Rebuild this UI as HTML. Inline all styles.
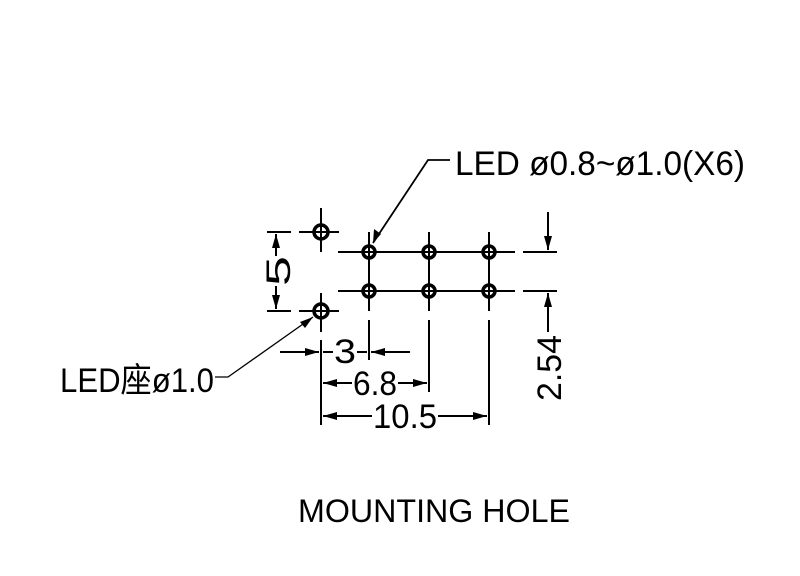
<!DOCTYPE html>
<html><head><meta charset="utf-8"><style>html,body{margin:0;padding:0;background:#fff}svg{display:block}</style></head><body>
<svg width="800" height="576" viewBox="0 0 800 576" xmlns="http://www.w3.org/2000/svg" font-family="Liberation Sans, 'Noto Sans CJK TC', sans-serif">
<rect width="800" height="576" fill="#fff"/>
<g stroke="#000" stroke-width="2" fill="none">
<line x1="338" y1="252" x2="515" y2="252"/><line x1="338" y1="291" x2="515" y2="291"/>
<line x1="523" y1="252" x2="557" y2="252"/><line x1="523" y1="291" x2="557" y2="291"/>
<line x1="369" y1="232" x2="369" y2="311"/><line x1="429" y1="232" x2="429" y2="311"/><line x1="489" y1="232" x2="489" y2="311"/>
<line x1="369" y1="320" x2="369" y2="360"/><line x1="429" y1="320" x2="429" y2="392"/><line x1="489" y1="320" x2="489" y2="425"/>
<line x1="321" y1="340" x2="321" y2="425"/>
<line x1="299" y1="232" x2="339" y2="232"/><line x1="321" y1="208" x2="321" y2="252"/>
<line x1="299" y1="311" x2="339" y2="311"/><line x1="321" y1="293" x2="321" y2="332"/>
<line x1="267" y1="232" x2="291" y2="232"/><line x1="267" y1="311" x2="291" y2="311"/>
<line x1="276" y1="234" x2="276" y2="256"/><line x1="276" y1="286" x2="276" y2="309"/>
<line x1="548" y1="212" x2="548" y2="250"/><line x1="548" y1="293" x2="548" y2="332"/>
<line x1="280" y1="352" x2="319" y2="352"/><line x1="323" y1="352" x2="333" y2="352"/>
<line x1="357" y1="352" x2="367" y2="352"/><line x1="371" y1="352" x2="410" y2="352"/>
<line x1="323" y1="383" x2="352" y2="383"/><line x1="398" y1="383" x2="427" y2="383"/>
<line x1="323" y1="416" x2="372" y2="416"/><line x1="438" y1="416" x2="487" y2="416"/>
<polyline points="450,160 428,160 373,243" stroke-width="1.8"/>
<polyline points="215,377 228,377 313,317" stroke-width="1.3"/>
</g>
<g fill="#000">
<polygon points="276,234 272,248 280,248"/><polygon points="276,309 272,295 280,295"/>
<polygon points="548,250 544,236 552,236"/><polygon points="548,293 544,307 552,307"/>
<polygon points="319,352 305,348 305,356"/><polygon points="371,352 385,348 385,356"/>
<polygon points="323,383 337,379 337,387"/><polygon points="427,383 413,379 413,387"/>
<polygon points="323,416 337,412 337,420"/><polygon points="487,416 473,412 473,420"/>
<polygon points="373,243 374,229 381,234"/><polygon points="313,317 300,322 305,328"/>
</g>
<g stroke="#000" stroke-width="3.5" fill="none">
<circle cx="321" cy="232" r="7"/><circle cx="321" cy="311" r="7"/>
<circle cx="369" cy="252" r="6"/><circle cx="429" cy="252" r="6"/><circle cx="489" cy="252" r="6"/>
<circle cx="369" cy="291" r="6"/><circle cx="429" cy="291" r="6"/><circle cx="489" cy="291" r="6"/>
</g>
<g fill="#000" font-size="34">
<text x="455" y="175" textLength="290" lengthAdjust="spacingAndGlyphs">LED  ø0.8~ø1.0(X6)</text>
<text x="60" y="392" textLength="154" lengthAdjust="spacingAndGlyphs">LED座ø1.0</text>
<text x="334" y="363" textLength="22" lengthAdjust="spacingAndGlyphs">3</text>
<text x="353" y="395" textLength="44" lengthAdjust="spacingAndGlyphs">6.8</text>
<text x="373" y="428" textLength="64" lengthAdjust="spacingAndGlyphs">10.5</text>
<text transform="translate(290,286) rotate(-90)" textLength="30" lengthAdjust="spacingAndGlyphs">5</text>
<text transform="translate(561,401) rotate(-90)" textLength="66" lengthAdjust="spacingAndGlyphs">2.54</text>
<text x="298" y="522" font-size="32" textLength="272" lengthAdjust="spacingAndGlyphs">MOUNTING  HOLE</text>
</g>
</svg>
</body></html>
